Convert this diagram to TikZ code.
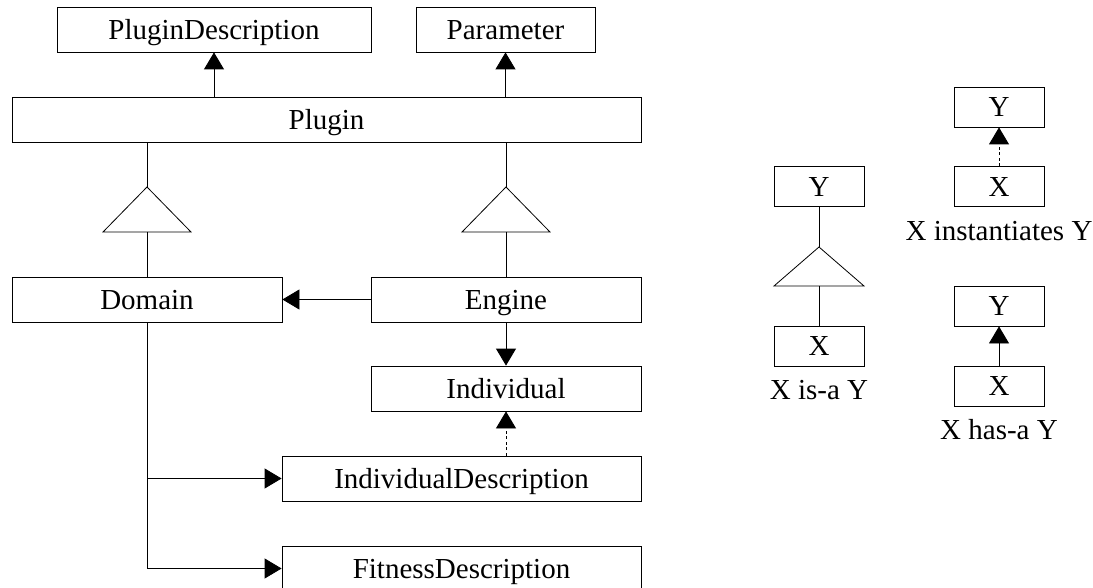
\documentclass[tikz,border=0pt]{standalone}
\usepackage{fontspec}
\setmainfont{Liberation Serif}
\usetikzlibrary{arrows.meta}

\begin{document}
\begin{tikzpicture}
            [x=1pt,y=-1pt,>={Triangle[length=17pt,width=20pt]},line width=0.8pt,
             cls/.style={draw,rectangle,minimum height=45pt,inner sep=0pt,
                         text height=19.5pt,text depth=0pt,
                         font=\fontsize{29}{35}\selectfont},
             legend/.style={cls,minimum width=90pt,minimum height=40pt},
             caption/.style={inner sep=0pt,font=\fontsize{29}{35}\selectfont}]

            \useasboundingbox (0,0) rectangle (1093,588);

            % class hierarchy
            \node (pdesc) [cls,minimum width=314pt] at (214,29.5) {PluginDescription};
            \node (param) [cls,minimum width=179pt] at (505.5,29.5) {Parameter};
            \node (plugin) [cls,minimum width=629pt] at (326.5,119.5) {Plugin};
            \node (domain) [cls,minimum width=270pt] at (147,299.5) {Domain};
            \node (engine) [cls,minimum width=270pt] at (506,299.5) {Engine};
            \node (indiv) [cls,minimum width=270pt] at (506,388.5) {Individual};
            \node (idesc) [cls,minimum width=359pt] at (461.5,478.5) {IndividualDescription};
            \node (fdesc) [cls,minimum width=359pt] at (461.5,568.5) {FitnessDescription};

            % tips and bases of the generalisation triangles
            \coordinate (isa1) at (147,187);
            \coordinate (isa1b) at (147,232);
            \coordinate (isa2) at (506,187);
            \coordinate (isa2b) at (506,232);

            \path[->] (plugin.north -| pdesc) edge (pdesc);
            \path[->] (plugin.north -| param) edge (param);

            \draw (plugin.south -| isa1) -- (isa1);
            \draw (isa1) -- ++(44,45) -- ++(-88,0) -- cycle;
            \draw (isa1b) -- (domain);
            \draw (plugin.south -| isa2) -- (isa2);
            \draw (isa2) -- ++(44,45) -- ++(-88,0) -- cycle;
            \draw (isa2b) -- (engine);

            \path[->] (engine) edge (domain);
            \path[->] (engine) edge (indiv);
            \path[->,dash pattern=on 3pt off 2.5pt] (idesc.north -| indiv) edge (indiv);
            \draw[->] (domain) |- (idesc);
            \draw[->] (domain) |- (fdesc);

            % legend
            \node (isaY) [legend] at (819,186.5) {Y};
            \node (isaX) [legend] at (819,346) {X};
            \node (isaL) [caption] at (819,390) {X is-a Y};
            \coordinate (isa3) at (819,247);
            \coordinate (isa3b) at (819,286);
            \draw (isaY) -- (isa3);
            \draw (isa3) -- ++(45,39) -- ++(-90,0) -- cycle;
            \draw (isa3b) -- (isaX);

            \node (instY) [legend] at (999,107) {Y};
            \node (instX) [legend] at (999,186.5) {X};
            \node (instL) [caption] at (999,231.5) {X instantiates Y};
            \path[->,dash pattern=on 3pt off 2.5pt] (instX) edge (instY);

            \node (hasY) [legend] at (999,306) {Y};
            \node (hasX) [legend] at (999,386) {X};
            \node (hasL) [caption] at (999,430) {X has-a Y};
            \path[->] (hasX) edge (hasY);
        \end{tikzpicture}
\end{document}
